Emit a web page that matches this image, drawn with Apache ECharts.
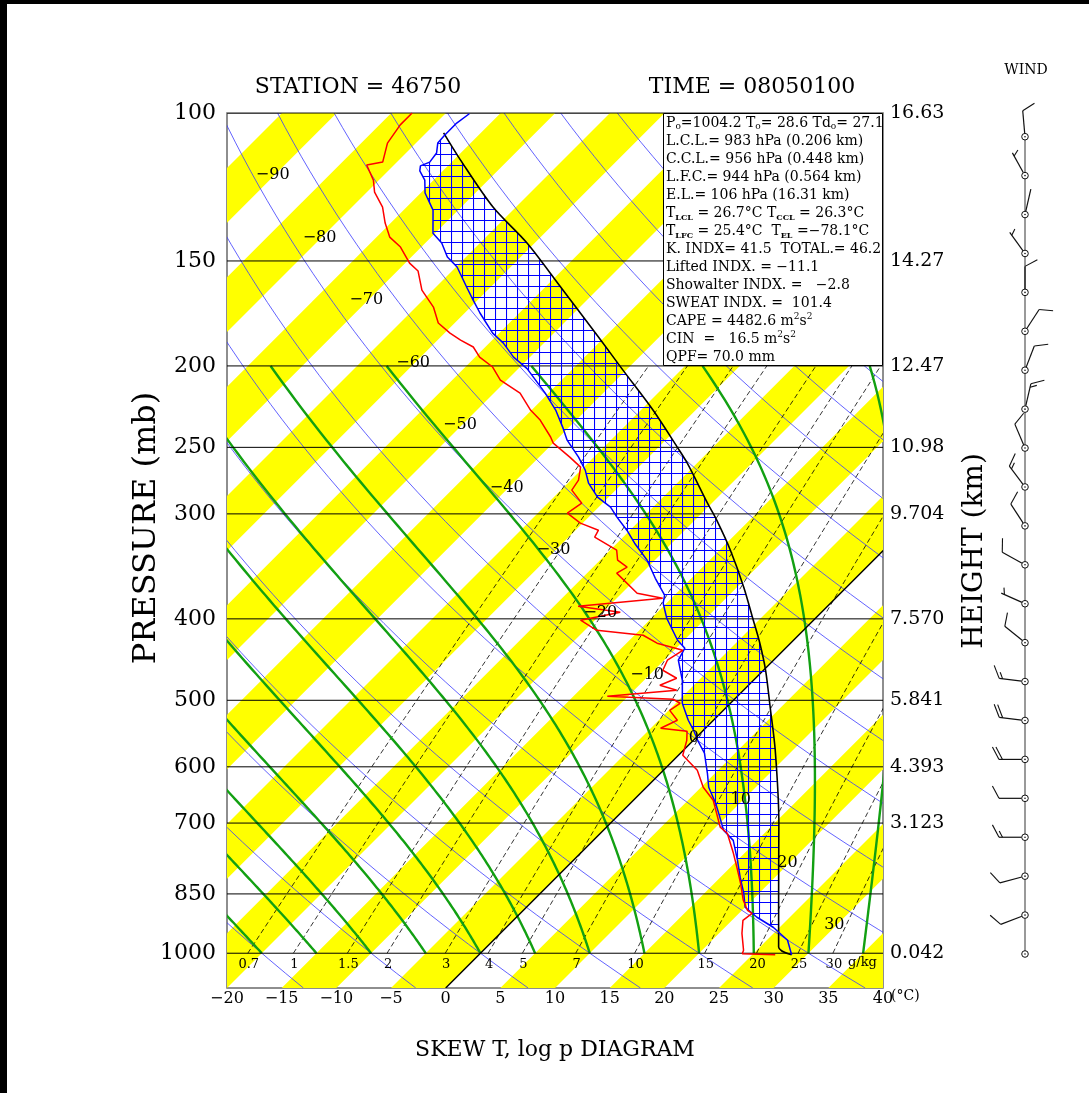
<!DOCTYPE html>
<html><head><meta charset="utf-8">
<script src="https://cdn.jsdelivr.net/npm/echarts@6/dist/echarts.min.js"></script>
<style>html,body{margin:0;padding:0;background:#fff}#c{width:1089px;height:1093px}</style>
</head><body><div id="c"></div><script>
// ---------------- data ----------------
const pressureLevels = [100,150,200,250,300,400,500,600,700,850,1000];
const heightLabels = ['16.63','14.27','12.47','10.98','9.704','7.570','5.841','4.393','3.123','','0.042'];
const isothermLabelTemps = [-90,-80,-70,-60,-50,-40,-30,-20,-10,0,10,20,30];
const mixingRatios = [0.7,1,1.5,2,3,4,5,7,10,15,20,25,30];
const mixingLabels = ['0.7','1','1.5','2','3','4','5','7','10','15','20','25','30'];
const moistStartTemps = [-20,-15,-10,-5,0,5,10,15,20,25,30,35];
const dryThetas = [-30,-20,-10,0,10,20,30,40,50,60,70,80,90,100,110,120,130,140,150,160,170,180,190];

const tempP = [100.2,102.8,106.2,108.6,111.6,114.4,115.6,117.2,120.2,124.5,130.5,139.0,142.8,148.4,152.5,161.1,167.0,173.0,182.8,187.9,195.2,201.5,215.5,225.7,236.5,245.1,256.8,266.1,275.8,286.6,294.5,302.7,313.7,325.1,340.6,357.9,374.9,383.2,399.3,424.1,433.5,448.0,473.3,504.1,528.1,542.8,558.0,578.1,610.7,634.6,663.1,681.6,714.1,734.0,775.0,812.0,848.4,881.6,906.1,931.3,965.0,1004.2];
const tempT = [-77.8,-78.1,-78.1,-78.0,-77.2,-77.0,-77.5,-77.1,-75.8,-74.6,-72.3,-70.2,-68.5,-66.7,-64.9,-62.2,-60.4,-58.6,-55.6,-53.7,-51.5,-49.2,-45.3,-42.8,-40.6,-39.0,-36.4,-34.6,-33.1,-31.0,-28.9,-27.4,-25.3,-23.4,-20.7,-18.3,-15.9,-15.3,-13.6,-10.6,-9.2,-8.7,-6.5,-4.4,-2.3,-0.9,0.4,2.2,4.3,5.7,7.8,9.0,11.0,12.8,15.0,16.8,18.6,20.0,22.0,24.4,26.9,28.6];

const dewP = [100.0,103.3,108.6,114.4,115.3,120.2,124.2,129.4,135.2,140.5,144.4,150.9,154.2,162.5,170.2,177.8,182.8,186.3,189.9,195.2,200.6,207.9,215.5,225.7,232.0,243.0,247.1,256.8,263.9,273.5,281.1,291.3,299.4,307.7,313.7,319.8,331.4,340.6,347.1,352.9,372.8,378.0,386.4,392.8,401.5,412.7,418.4,427.6,436.0,448.0,460.5,470.7,479.8,486.4,494.5,498.6,504.1,514.0,528.1,539.8,544.3,558.0,581.3,605.7,634.6,657.6,707.9,719.7,760.5,790.3,825.7,865.0,889.1,896.5,913.8,947.0,992.1,1001.6,1004.2];
const dewT = [-83.1,-83.1,-82.6,-81.3,-82.5,-80.5,-79.3,-77.2,-75.5,-73.8,-71.9,-69.6,-68.1,-66.0,-63.4,-61.5,-59.5,-57.9,-56.1,-54.6,-52.5,-50.6,-47.6,-45.1,-43.3,-40.8,-40.0,-37.2,-35.3,-34.3,-34.0,-31.9,-32.3,-30.2,-27.9,-27.6,-24.4,-23.4,-21.9,-22.3,-18.6,-15.8,-22.8,-18.4,-21.3,-18.9,-14.2,-12.2,-9.2,-9.7,-9.2,-7.2,-8.1,-6.1,-11.9,-5.6,-4.6,-4.9,-3.3,-4.1,-1.4,-0.6,0.4,3.1,5.2,7.3,10.4,11.6,14.0,15.6,17.4,19.2,20.5,21.2,21.0,22.1,23.8,24.0,27.1];

const parcelP = [105.6,113.7,129.4,142.8,161.1,181.2,193.1,202.3,225.7,249.8,261.1,291.3,305.2,331.4,366.7,401.5,427.6,460.5,509.6,573.4,700.2,796.9,983.0,1004.2];
const parcelT = [-78.4,-74.4,-67.1,-60.7,-53.6,-46.7,-43.0,-40.3,-33.9,-28.3,-25.9,-20.4,-18.0,-14.0,-9.4,-5.5,-2.8,0.2,4.0,8.4,15.4,19.7,26.7,28.6];
const capeTop = 106, capeBottom = 944;

const windDir = [355,331,13,324,360,33,21,13,337,323,327,299,294,309,277,277,270,270,270,255,249,0];
const windSpd = [10,5,2,5,10,10,10,15,10,15,10,10,5,10,15,20,20,10,15,10,10,0];

const indexLines = [
  [['n','P'],['s','o'],['n','=1004.2 T'],['s','o'],['n','= 28.6 Td'],['s','o'],['n','= 27.1']],
  [['n','L.C.L.= 983 hPa (0.206 km)']],
  [['n','C.C.L.= 956 hPa (0.448 km)']],
  [['n','L.F.C.= 944 hPa (0.564 km)']],
  [['n','E.L.= 106 hPa (16.31 km)']],
  [['n','T'],['b','LCL'],['n',' = 26.7°C T'],['b','CCL'],['n',' = 26.3°C']],
  [['n','T'],['b','LFC'],['n',' = 25.4°C  T'],['b','EL'],['n',' =−78.1°C']],
  [['n','K. INDX= 41.5  TOTAL.= 46.2']],
  [['n','Lifted INDX. = −11.1']],
  [['n','Showalter INDX. =   −2.8']],
  [['n','SWEAT INDX. =  101.4']],
  [['n','CAPE = 4482.6 m'],['p','2'],['n','s'],['p','2']],
  [['n','CIN  =   16.5 m'],['p','2'],['n','s'],['p','2']],
  [['n','QPF= 70.0 mm']]
];

// ---------------- geometry ----------------
const FONT = '"DejaVu Serif", "Liberation Serif", serif';
const GRID = {left:227, top:113, width:656, height:875};
const PBOT = 1100, PTOP = 100, XMIN = -20, XMAX = 40;
const K = (GRID.height / Math.log10(PBOT/PTOP)) / (GRID.width / (XMAX - XMIN));
function sx(T, p){ return T + K * Math.log10(PBOT / p); }
function es(Tc){ return 6.112 * Math.exp(17.67 * Tc / (Tc + 243.5)); }
function tdFromE(e){ const l = Math.log(e/6.112); return 243.5*l/(17.67-l); }
function logSteps(p0, p1, n){ const a=[]; for(let i=0;i<=n;i++){ a.push(p0*Math.pow(p1/p0, i/n)); } return a; }

const dryLines = dryThetas.map(th => logSteps(PBOT, PTOP, 60).map(p => [sx((th+273.15)*Math.pow(p/1000,0.2857)-273.15, p), p]));
function moistRate(p, Tk){
  const Rd=287.04, Cp=1005.7, Lv=2.467e6, eps=0.622;
  const e = es(Tk-273.15), rs = eps*e/(p-e);
  return (Rd*Tk + Lv*rs) / (Cp + Lv*Lv*rs*eps/(Rd*Tk*Tk)) / p;
}
const moistLines = moistStartTemps.map(t0 => {
  let T = t0 + 273.15, p = 1000; const n = 160, dp = (200 - 1000)/n; const pts = [[sx(t0, p), p]];
  for (let i=0;i<n;i++){
    const k1 = moistRate(p, T), k2 = moistRate(p+dp/2, T+dp/2*k1), k3 = moistRate(p+dp/2, T+dp/2*k2), k4 = moistRate(p+dp, T+dp*k3);
    T += dp/6*(k1+2*k2+2*k3+k4); p += dp; pts.push([sx(T-273.15, p), p]);
  }
  return pts;
});
const mixLines = mixingRatios.map(w => logSteps(1000, 200, 30).map(p => [sx(tdFromE(w*p/622), p), p]));

function interpT(P, T, p){
  if (p <= P[0]) return T[0];
  for (let i=1;i<P.length;i++){ if (p <= P[i]){ const f = (Math.log(p)-Math.log(P[i-1]))/(Math.log(P[i])-Math.log(P[i-1])); return T[i-1] + f*(T[i]-T[i-1]); } }
  return T[T.length-1];
}

function polySeries(lines, style, z){
  return {type:'custom', coordinateSystem:'cartesian2d', xAxisIndex:0, yAxisIndex:0, clip:true, z, silent:true,
    data: lines.map((_,i)=>[0,500,i]),
    renderItem: (params, api) => ({type:'polyline', shape:{points: lines[params.dataIndex].map(d=>api.coord(d))}, style: Object.assign({fill:'none'}, style)})
  };
}

const pc = document.createElement('canvas'); pc.width = 11; pc.height = 11;
(function(){ const c = pc.getContext('2d'); c.strokeStyle = '#0000ff'; c.lineWidth = 1.1; c.beginPath(); c.moveTo(0.5,0); c.lineTo(0.5,11); c.moveTo(0,0.5); c.lineTo(11,0.5); c.stroke(); })();

const bandStarts = []; for (let t=-105; t<=35; t+=10) bandStarts.push(t);

const texts = [];
pressureLevels.forEach((p,i) => {
  texts.push({x:XMIN, p, dx:-11, text:String(p), align:'right', font:'22px '+FONT});
  if (heightLabels[i]) texts.push({x:XMAX, p, dx:7, text:heightLabels[i], align:'left', font:'19px '+FONT});
});
isothermLabelTemps.forEach((t,i) => {
  const p = 118.5*Math.pow(926.4/118.5, i/12);
  texts.push({x:sx(t,p), p, dx:-2, text: t<0 ? '−'+(-t) : String(t), align:'center', font:'16px '+FONT});
});
mixingRatios.forEach((w,i) => {
  texts.push({x:sx(tdFromE(w*1000/622),1000), p:1000, dx:1, dy:11, text:mixingLabels[i], align:'center', font:'13px '+FONT});
});

const richStyles = {
  n:{fontSize:14, fontFamily:FONT, lineHeight:17, color:'#000'},
  s:{fontSize:9, fontFamily:FONT, lineHeight:9, verticalAlign:'bottom', color:'#000'},
  b:{fontSize:8, fontFamily:FONT, fontWeight:'bold', lineHeight:8, verticalAlign:'bottom', color:'#000'},
  p:{fontSize:9, fontFamily:FONT, lineHeight:9, verticalAlign:'top', color:'#000'}
};

const graphics = [
  {type:'rect', z:100, shape:{x:0,y:0,width:1089,height:4}, style:{fill:'#000'}},
  {type:'rect', z:100, shape:{x:0,y:0,width:7,height:1093}, style:{fill:'#000'}},
  {type:'text', z:100, x:358, y:87, style:{text:'STATION = 46750', font:'22px '+FONT, fill:'#000', align:'center', verticalAlign:'middle'}},
  {type:'text', z:100, x:752, y:87, style:{text:'TIME = 08050100', font:'22px '+FONT, fill:'#000', align:'center', verticalAlign:'middle'}},
  {type:'text', z:100, x:555, y:1050, style:{text:'SKEW T, log p DIAGRAM', font:'22px '+FONT, fill:'#000', align:'center', verticalAlign:'middle'}},
  {type:'text', z:100, x:147, y:528, rotation:Math.PI/2, style:{text:'PRESSURE (mb)', font:'32px '+FONT, fill:'#000', align:'center', verticalAlign:'middle'}},
  {type:'text', z:100, x:975, y:551, rotation:Math.PI/2, style:{text:'HEIGHT (km)', font:'28px '+FONT, fill:'#000', align:'center', verticalAlign:'middle'}},
  {type:'text', z:100, x:1026, y:70, style:{text:'WIND', font:'14px '+FONT, fill:'#000', align:'center', verticalAlign:'middle'}},
  {type:'text', z:100, x:891, y:996, style:{text:'(°C)', font:'14px '+FONT, fill:'#000', align:'left', verticalAlign:'middle'}},
  {type:'text', z:100, x:848, y:963, style:{text:'g/kg', font:'13px '+FONT, fill:'#000', align:'left', verticalAlign:'middle'}},
  {type:'rect', z:100, shape:{x:663.5,y:113.5,width:219,height:252}, style:{fill:'#fff', stroke:'#000', lineWidth:1}}
];
indexLines.forEach((segs,i) => {
  graphics.push({type:'text', z:101, x:666, y:123 + i*18.0, style:{text: segs.map(s=>'{'+s[0]+'|'+s[1]+'}').join(''), rich:richStyles, align:'left', verticalAlign:'middle', font:'14px '+FONT, fill:'#000'}});
});

const option = {
  animation:false,
  backgroundColor:'#fff',
  grid:[
    {left:GRID.left, top:GRID.top, width:GRID.width, height:GRID.height, show:true, borderColor:'#6a6a6a', borderWidth:1.5, backgroundColor:'transparent'},
    {left:985, top:136.7, width:80, height:817.3}
  ],
  xAxis:[
    {type:'value', gridIndex:0, min:XMIN, max:XMAX, interval:5, position:'bottom',
     axisLine:{show:false}, axisTick:{show:false}, splitLine:{show:false},
     axisLabel:{fontFamily:FONT, fontSize:16, color:'#000', margin:3, showMinLabel:true, showMaxLabel:true,
       formatter: v => v<0 ? '−'+(-v) : String(v)}},
    {type:'value', gridIndex:1, min:-1, max:1, show:false}
  ],
  yAxis:[
    {type:'log', logBase:10, gridIndex:0, min:PTOP, max:PBOT, inverse:true, show:false},
    {type:'value', gridIndex:1, min:0, max:21, inverse:true, show:false}
  ],
  graphic: graphics,
  series:[
    {type:'custom', coordinateSystem:'cartesian2d', clip:true, z:1, silent:true,
     data: bandStarts.map((t,i)=>[0,500,i]),
     renderItem:(params, api) => {
       const t = bandStarts[params.dataIndex];
       const pts = [[sx(t,PBOT),PBOT],[sx(t+5,PBOT),PBOT],[sx(t+5,PTOP),PTOP],[sx(t,PTOP),PTOP]].map(d=>api.coord(d));
       return {type:'polygon', shape:{points:pts}, style:{fill:'#ffff00', stroke:'none'}};
     }},
    polySeries(dryLines, {stroke:'#3b3bff', lineWidth:0.8}, 2),
    polySeries(mixLines, {stroke:'#000', lineWidth:0.8, lineDash:[5,3]}, 2),
    polySeries(moistLines, {stroke:'#12a012', lineWidth:2.4}, 3),
    polySeries([[[sx(0,PBOT),PBOT],[sx(0,PTOP),PTOP]]], {stroke:'#000', lineWidth:1.4}, 3),
    polySeries(pressureLevels.map(p=>[[XMIN,p],[XMAX,p]]), {stroke:'#000', lineWidth:1}, 3),
    {type:'custom', coordinateSystem:'cartesian2d', clip:true, z:4, silent:true, data:[[0,500,0]],
     renderItem:(params, api) => {
       const lv = logSteps(capeTop, capeBottom, 200);
       const right = lv.map(p => api.coord([sx(interpT(parcelP, parcelT, p), p), p]));
       const left = lv.slice().reverse().map(p => api.coord([sx(interpT(tempP, tempT, p), p), p]));
       return {type:'polygon', shape:{points: right.concat(left)}, style:{fill:{image:pc, repeat:'repeat'}, stroke:'none'}};
     }},
    {type:'line', xAxisIndex:0, yAxisIndex:0, z:5, showSymbol:false, smooth:0.3, silent:true,
     data: parcelP.map((p,i)=>[sx(parcelT[i],p), p]), lineStyle:{color:'#000', width:1.6}},
    {type:'line', xAxisIndex:0, yAxisIndex:0, z:6, showSymbol:false, silent:true,
     data: tempP.map((p,i)=>[sx(tempT[i],p), p]), lineStyle:{color:'#0000ff', width:1.5}},
    {type:'line', xAxisIndex:0, yAxisIndex:0, z:6, showSymbol:false, silent:true,
     data: dewP.map((p,i)=>[sx(dewT[i],p), p]), lineStyle:{color:'#ff0000', width:1.5}},
    {type:'custom', coordinateSystem:'cartesian2d', clip:false, z:7, silent:true,
     data: texts.map((_,i)=>[0,500,i]),
     renderItem:(params, api) => {
       const t = texts[params.dataIndex]; const c = api.coord([t.x, t.p]);
       return {type:'text', x:c[0]+(t.dx||0), y:c[1]+(t.dy||0), style:{text:t.text, font:t.font, fill:'#000', align:t.align, verticalAlign:'middle'}};
     }},
    {type:'line', xAxisIndex:1, yAxisIndex:1, z:5, showSymbol:false, silent:true,
     data:[[0,0],[0,windDir.length-1]], lineStyle:{color:'#777', width:1.5}},
    {type:'custom', coordinateSystem:'cartesian2d', xAxisIndex:1, yAxisIndex:1, clip:false, z:6, silent:true,
     data: windDir.map((d,i)=>[0,i,d,windSpd[i]]),
     renderItem:(params, api) => {
       const c = api.coord([0, api.value(1)]);
       const dir = api.value(2), spd = api.value(3);
       const ch = [];
       if (spd >= 1){
         const a = dir*Math.PI/180, v = [Math.sin(a), -Math.cos(a)], r = [-v[1], v[0]];
         const L = 26, tip = [c[0]+v[0]*L, c[1]+v[1]*L];
         ch.push({type:'line', shape:{x1:c[0]+v[0]*3.3, y1:c[1]+v[1]*3.3, x2:tip[0], y2:tip[1]}, style:{stroke:'#111', lineWidth:1.2}});
         const ang = 62*Math.PI/180, f = [Math.cos(ang)*v[0]+Math.sin(ang)*r[0], Math.cos(ang)*v[1]+Math.sin(ang)*r[1]];
         const s = Math.round(spd/5)*5, full = Math.floor(s/10), half = (s%10)>=5 ? 1 : 0;
         let pos = (full===0 && half) ? 1 : 0;
         const feather = (len) => { const b=[tip[0]-v[0]*pos*3.5, tip[1]-v[1]*pos*3.5]; ch.push({type:'line', shape:{x1:b[0], y1:b[1], x2:b[0]+f[0]*len, y2:b[1]+f[1]*len}, style:{stroke:'#111', lineWidth:1.1}}); pos++; };
         for (let i=0;i<full;i++) feather(14);
         if (half) feather(7);
       }
       ch.push({type:'circle', shape:{cx:c[0], cy:c[1], r:3.3}, style:{fill:'#fff', stroke:'#111', lineWidth:1}});
       ch.push({type:'circle', shape:{cx:c[0], cy:c[1], r:0.8}, style:{fill:'#111'}});
       return {type:'group', children:ch};
     }}
  ]
};
const chart = echarts.init(document.getElementById('c'));
chart.setOption(option);
</script></body></html>
